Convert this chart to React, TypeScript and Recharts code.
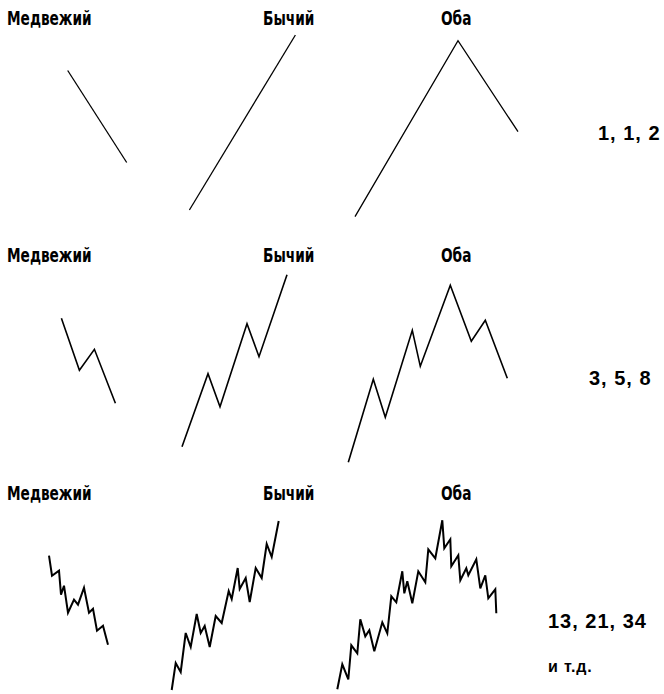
import { ComposedChart, Line, XAxis, YAxis } from "recharts";

const W = 664;
const H = 694;

// each wave: [time, price] pairs measured from the wave's first point
const bear1 = [[0, 0], [59, -92]];
const bull1 = [[0, 0], [106, 175]];
const both1 = [[0, 0], [103, 176], [163, 85]];

const bear2 = [[0, 0], [18, -52], [33, -31], [54, -85]];
const bull2 = [[0, 0], [26, 73], [38, 40], [65, 123], [77, 90], [105, 172]];
const both2 = [[0, 0], [25, 83], [37, 45], [64, 132], [72, 96], [102, 177], [123, 121], [137, 142], [159, 84]];

const bear3 = [
  [0, 0], [3, -20], [10, -15], [12, -39], [15, -30], [19, -57], [25, -44],
  [29, -49], [35, -32], [40, -57], [44, -53], [48, -75], [54, -70], [59, -89],
];
const bull3 = [
  [0, 0], [4, 27], [9, 18], [14, 57], [19, 43], [25, 76], [29, 57], [33, 64],
  [38, 43], [44, 74], [50, 67], [57, 99], [60, 91], [66, 122], [68, 101],
  [74, 112], [78, 88], [84, 122], [90, 112], [95, 146], [100, 133], [107, 169],
];
const both3 = [
  [0, 0], [5, 25], [11, 10], [14, 44], [20, 36], [23, 70], [28, 53], [32, 59],
  [37, 38], [45, 67], [50, 56], [54, 93], [59, 87], [65, 118], [67, 96],
  [70, 108], [75, 86], [81, 118], [88, 107], [91, 140], [98, 131], [105, 169],
  [107, 141], [113, 150], [114, 123], [121, 134], [123, 109], [129, 121],
  [131, 114], [139, 130], [143, 101], [148, 114], [151, 91], [158, 100], [159, 76],
];

const columnTitles = ["Медвежий", "Бычий", "Оба"];
const counts = ["1, 1, 2", "3, 5, 8", "13, 21, 34"];
const etc = "и т.д.";

// where each wave starts (x from left, y from top) and its stroke width
const layout = [
  { key: "bear1", pts: bear1, at: [67.7, 70.5], sw: 1.3 },
  { key: "bull1", pts: bull1, at: [189.4, 210], sw: 1.3 },
  { key: "both1", pts: both1, at: [355, 216.7], sw: 1.3 },
  { key: "bear2", pts: bear2, at: [61.4, 318.3], sw: 1.6 },
  { key: "bull2", pts: bull2, at: [182, 446.7], sw: 1.6 },
  { key: "both2", pts: both2, at: [348.3, 462.3], sw: 1.6 },
  { key: "bear3", pts: bear3, at: [49, 555.7], sw: 2 },
  { key: "bull3", pts: bull3, at: [171.7, 690], sw: 2 },
  { key: "both3", pts: both3, at: [337.3, 689.3], sw: 2 },
];

const series = layout.map((w) => ({
  ...w,
  data: w.pts.map(([t, p]) => ({ x: w.at[0] + t, y: H - w.at[1] + p })),
}));

const rowY = [18, 255, 493];
const titleLeft = [7, 263, 441];
const countPos = [
  { left: 598, top: 133 },
  { left: 589, top: 378 },
  { left: 548, top: 621 },
];

const titleFont = '"DejaVu Sans Condensed", "Liberation Sans Narrow", sans-serif';
const numFont = '"Liberation Sans", Arial, sans-serif';

export default function App() {
  return (
    <div style={{ position: "absolute", left: 0, top: 0, width: W, height: H, background: "#fff" }}>
      <ComposedChart width={W} height={H} margin={{ top: 0, right: 0, bottom: 0, left: 0 }}>
        <XAxis type="number" dataKey="x" domain={[0, W]} hide allowDataOverflow />
        <YAxis type="number" dataKey="y" domain={[0, H]} hide allowDataOverflow />
        {series.map((s) => (
          <Line
            key={s.key}
            data={s.data}
            dataKey="y"
            type="linear"
            stroke="#000"
            strokeWidth={s.sw}
            strokeLinejoin="miter"
            dot={false}
            activeDot={false}
            isAnimationActive={false}
          />
        ))}
      </ComposedChart>

      {rowY.map((y, r) => (
        <div key={r}>
          {columnTitles.map((t, c) => (
            <div key={t} style={{ ...titleStyle, left: titleLeft[c], top: y }}>
              {t}
            </div>
          ))}
        </div>
      ))}

      {counts.map((c, i) => (
        <div key={c} style={{ ...countStyle, left: countPos[i].left, top: countPos[i].top }}>
          {c}
        </div>
      ))}
      <div style={{ ...countStyle, left: 548, top: 667, fontSize: 16, letterSpacing: 0.8 }}>{etc}</div>
    </div>
  );
}

const titleStyle: React.CSSProperties = {
  position: "absolute",
  transform: "translateY(-50%) scaleX(0.76)",
  transformOrigin: "left center",
  fontFamily: titleFont,
  fontWeight: 700,
  fontSize: 20,
  lineHeight: 1,
  color: "#000",
  whiteSpace: "nowrap",
};

const countStyle: React.CSSProperties = {
  position: "absolute",
  transform: "translateY(-50%)",
  fontFamily: numFont,
  fontWeight: 700,
  fontSize: 20,
  letterSpacing: 1,
  lineHeight: 1,
  color: "#000",
  whiteSpace: "nowrap",
};
